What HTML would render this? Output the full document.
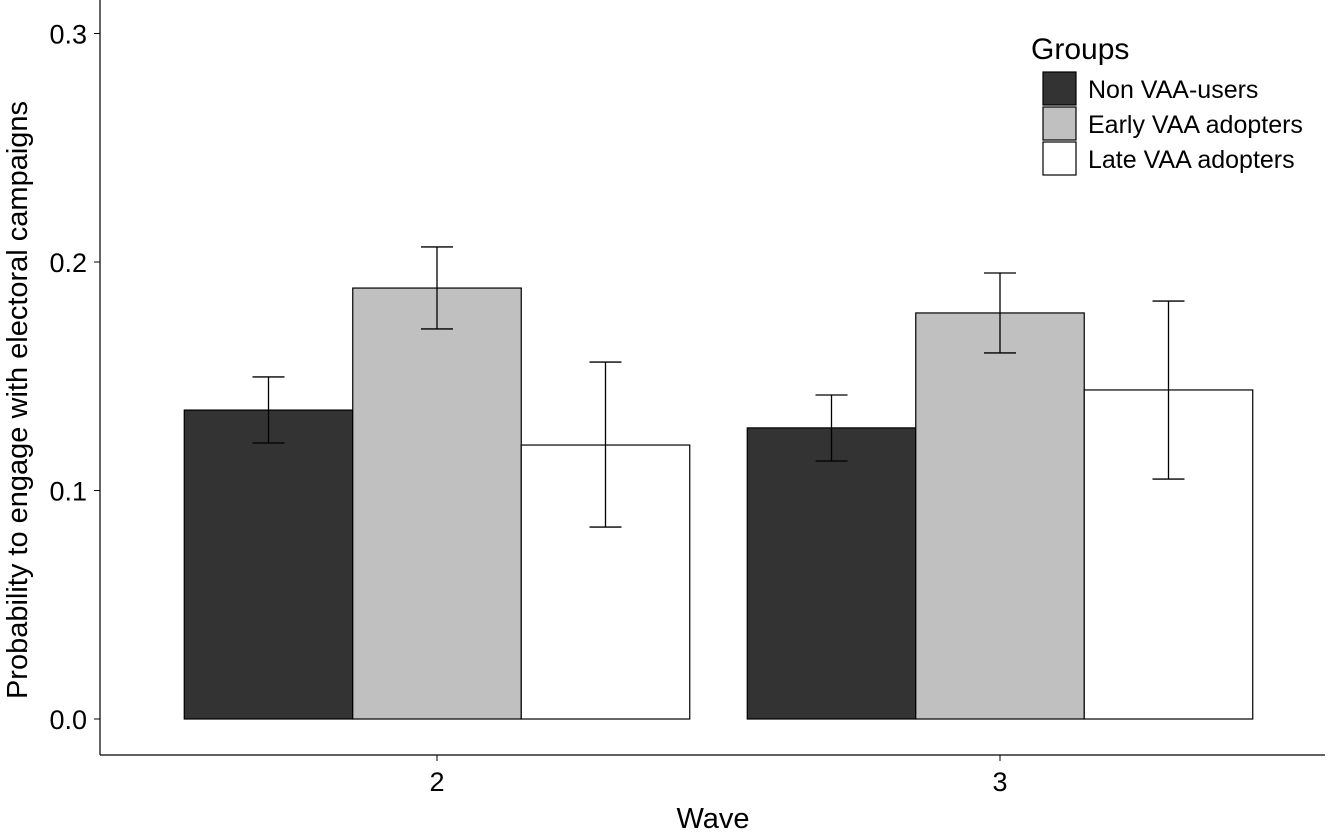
<!DOCTYPE html>
<html><head><meta charset="utf-8"><style>
body{margin:0;background:#fff}
svg{display:block;font-family:"Liberation Sans",sans-serif}
</style></head><body>
<svg id="chart" width="1336" height="834">
<g id="plot"></g>
</svg>
<script>
const waves=["2","3"];
const groups=["Non VAA-users","Early VAA adopters","Late VAA adopters"];
const means=[[0.1352,0.1886,0.1199],[0.1274,0.1777,0.1440]];
const lower=[[0.1208,0.1707,0.0840],[0.1129,0.1602,0.1050]];
const upper=[[0.1497,0.2066,0.1562],[0.1418,0.1952,0.1829]];
const yTicks=[0,0.1,0.2,0.3];
const yTickLabels=["0.0","0.1","0.2","0.3"];
const fills=["#333333","#c0c0c0","#ffffff"];
const NS="http://www.w3.org/2000/svg";
const g=document.getElementById('plot');
const y=v=>719-v*2285;
const waveX=i=>437+i*563;
const barW=168.5;
function mk(t,a,txt){const e=document.createElementNS(NS,t);for(const k in a)e.setAttribute(k,a[k]);if(txt!==undefined)e.textContent=txt;g.appendChild(e);return e;}
let e;
e=mk('line',{x1:100,y1:0,x2:100,y2:755,stroke:'#000','stroke-width':1.2});


e=mk('line',{x1:100,y1:755,x2:1325,y2:755,stroke:'#000','stroke-width':1.2});


yTicks.forEach((t,i)=>{
 e=mk('line',{x1:94,x2:100,y1:y(t),y2:y(t),stroke:'#000'});
 
 
 e=mk('text',{x:87,y:y(t)+10,'text-anchor':'end','font-size':27,fill:'#000'},yTickLabels[i]);
 
 
});
waves.forEach((w,i)=>{
 e=mk('line',{x1:waveX(i),x2:waveX(i),y1:755,y2:761,stroke:'#000'});
 
 
 e=mk('text',{x:waveX(i),y:791,'text-anchor':'middle','font-size':27},w);
 
 
 groups.forEach((gr,j)=>{
  const x0=waveX(i)-1.5*barW+j*barW;
  e=mk('rect',{x:x0,y:y(means[i][j]),width:barW,height:y(0)-y(means[i][j]),fill:fills[j],stroke:'#000','stroke-width':1.2});
  
  
  const cx=x0+barW/2;
  e=mk('path',{d:`M${cx-16},${y(upper[i][j])}H${cx+16}M${cx},${y(upper[i][j])}V${y(lower[i][j])}M${cx-16},${y(lower[i][j])}H${cx+16}`,stroke:'#000','stroke-width':1.3,fill:'none'});
  
  
 });
});
e=mk('text',{x:713,y:828,'text-anchor':'middle','font-size':29},'Wave');


e=mk('text',{x:0,y:0,transform:'translate(27,400) rotate(-90)','text-anchor':'middle','font-size':29},'Probability to engage with electoral campaigns');


e=mk('text',{x:1031,y:59,'font-size':30},'Groups');


groups.forEach((gr,j)=>{
 const ky=72+j*35;
 e=mk('rect',{x:1043,y:ky,width:33,height:33,fill:fills[j],stroke:'#000','stroke-width':1.2});
 
 
 e=mk('text',{x:1088,y:ky+26,'font-size':25},gr);
 
 
});
</script>
</body></html>
